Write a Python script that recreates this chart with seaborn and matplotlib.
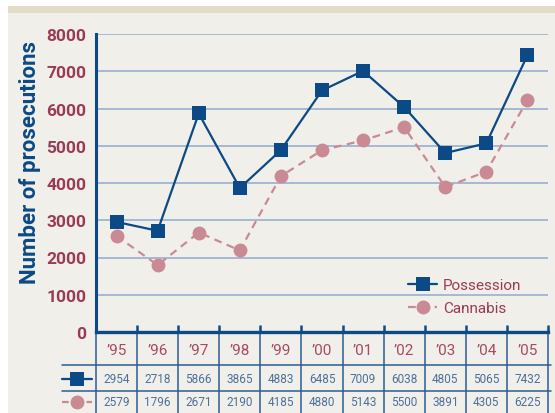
import matplotlib
matplotlib.use("Agg")
import matplotlib.pyplot as plt
import matplotlib.transforms as mtransforms
from matplotlib.patches import Rectangle
from matplotlib.lines import Line2D
import seaborn as sns
import pandas as pd
import numpy as np

years = ["’95", "’96", "’97", "’98", "’99", "’00", "’01", "’02", "’03", "’04", "’05"]
possession = [2954, 2718, 5866, 3865, 4883, 6485, 7009, 6038, 4805, 5065, 7432]
cannabis = [2579, 1796, 2671, 2190, 4185, 4880, 5143, 5500, 3891, 4305, 6225]
yticks = [0, 1000, 2000, 3000, 4000, 5000, 6000, 7000, 8000]

BLUE = "#0b4a86"
PINK = "#c98a94"
MAROON = "#9c3a55"
GRID = "#9fb5d2"
BG = "#f0efe9"
NUMC = "#4c709c"
LINEC = "#2c5d94"

sns.set_theme(style="white")
plt.rcParams["font.family"] = ["Roboto", "DejaVu Sans"]

fig = plt.figure(figsize=(5.55, 4.14), dpi=100)
fig.patch.set_facecolor("white")
# panel background and top band
fig.patches.append(Rectangle((8/555, 0), 1, 1 - 7/414, transform=fig.transFigure,
                             facecolor=BG, edgecolor="none", zorder=-10))
fig.patches.append(Rectangle((8/555, 1 - 14/414), 1, 7/414, transform=fig.transFigure,
                             facecolor="#e1dcc3", edgecolor="none", zorder=-9))

ax = fig.add_axes([96/555, 1 - 333/414, (548 - 96)/555, (333 - 35)/414])
ax.set_facecolor("none")

x = np.arange(len(years))
df = pd.DataFrame({"x": x, "Possession": possession, "Cannabis": cannabis})

sns.lineplot(data=df, x="x", y="Cannabis", ax=ax, color=PINK, linewidth=1.6,
             linestyle=(0, (3.5, 2.5)), marker="o", markersize=10, markeredgewidth=0,
             label="Cannabis", zorder=3)
sns.lineplot(data=df, x="x", y="Possession", ax=ax, color=BLUE, linewidth=1.6,
             marker="s", markersize=10, markeredgewidth=0, label="Possession", zorder=4)

ax.set_xlim(-0.5, len(years) - 0.5)
ax.set_ylim(0, 8000)
ax.set_yticks(yticks)
ax.set_yticklabels([str(v) for v in yticks], color=MAROON, fontsize=12.5, fontweight="bold")
ax.tick_params(axis="y", length=0, pad=7)
ax.set_xticks([])
ax.set_xticks(np.arange(-0.5, len(years)), minor=True)
ax.tick_params(axis="x", which="minor", direction="in", length=5, width=1.8, color=BLUE,
               bottom=True, labelbottom=False)
ax.set_xlabel("")
ax.set_ylabel("")
for yv in yticks[1:]:
    ax.axhline(yv, color=GRID, linewidth=1.3, zorder=1)

for s in ["top", "right"]:
    ax.spines[s].set_visible(False)
ax.spines["left"].set_color(BLUE)
ax.spines["left"].set_linewidth(2.2)
ax.spines["bottom"].set_color(BLUE)
ax.spines["bottom"].set_linewidth(2.4)

fig.text(30/555, 1 - 162/414, "Number of prosecutions", rotation=90, ha="center", va="center",
         color=BLUE, fontsize=16, fontweight="bold")

# legend
handles, labels = ax.get_legend_handles_labels()
order = [labels.index("Possession"), labels.index("Cannabis")]
leg = ax.legend([handles[i] for i in order], [labels[i] for i in order],
                loc="lower right", bbox_to_anchor=(0.955, 0.035), frameon=False,
                fontsize=11, handlelength=1.9, handletextpad=0.4, labelspacing=0.6,
                borderaxespad=0)
for t in leg.get_texts():
    t.set_color(MAROON)

# table below the axes
tr = mtransforms.blended_transform_factory(ax.transData, ax.transAxes)
h = 298.0
def fy(py):
    return (333 - py) / h

for b in np.arange(-0.5, len(years)):
    ax.add_line(Line2D([b, b], [0, fy(414)], transform=tr, color=LINEC, linewidth=1.1, clip_on=False))
xl = -0.5 - 34 * (11 / 452)
xr = len(years) - 0.5 + 3 * (11 / 452)
for py in [366, 392]:
    ax.add_line(Line2D([xl, xr], [fy(py), fy(py)], transform=tr, color=LINEC, linewidth=1.1, clip_on=False))

for i, yr in enumerate(years):
    ax.text(i, fy(351), yr, transform=tr, ha="center", va="center", color="#a9495f", fontsize=11)
    ax.text(i, fy(380), str(possession[i]), transform=tr, ha="center", va="center", color=NUMC, fontsize=8.5)
    ax.text(i, fy(403), str(cannabis[i]), transform=tr, ha="center", va="center", color=NUMC, fontsize=8.5)

ix0 = -0.5 - 34 * (11 / 452)
ix1 = -0.5 - 4 * (11 / 452)
ixc = (ix0 + ix1) / 2
ax.add_line(Line2D([ix0, ix1], [fy(380), fy(380)], transform=tr, color=BLUE, linewidth=1.6, clip_on=False))
ax.add_line(Line2D([ixc], [fy(380)], transform=tr, color=BLUE, marker="s", markersize=10,
                   markeredgewidth=0, linestyle="none", clip_on=False))
ax.add_line(Line2D([ix0, ix1], [fy(403), fy(403)], transform=tr, color=PINK, linewidth=1.6,
                   linestyle=(0, (3, 2.5)), clip_on=False))
ax.add_line(Line2D([ixc], [fy(403)], transform=tr, color=PINK, marker="o", markersize=10,
                   markeredgewidth=0, linestyle="none", clip_on=False))

fig.savefig("out.png", dpi=100, facecolor=fig.get_facecolor())
